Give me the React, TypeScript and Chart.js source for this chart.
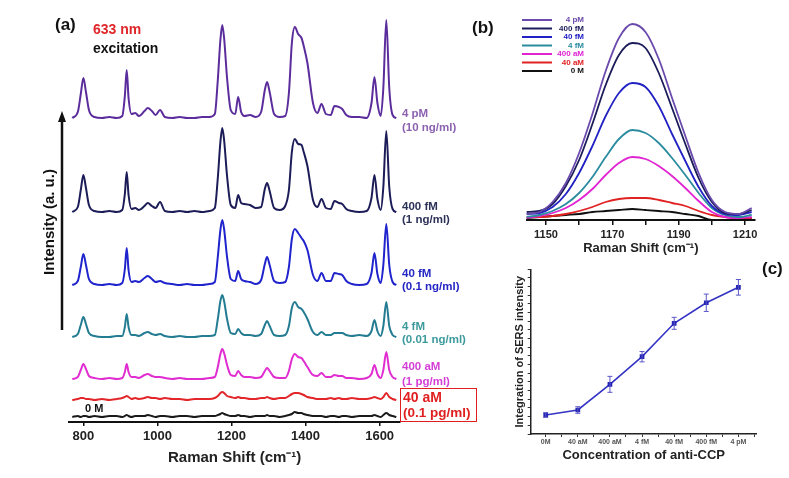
import React, { useEffect, useRef } from 'react';
import { Chart, registerables } from 'chart.js';
Chart.register(...registerables);

const FONT = '"Liberation Sans", Arial, Helvetica, sans-serif';

// ---------------- Panel (a) data ----------------
const ramanShiftA = [770, 785, 793, 800, 807, 815, 830, 850, 870, 890,
  905, 912, 917, 922, 930, 940, 950, 965, 974, 985,
  995, 1007, 1020, 1040, 1060, 1080, 1100, 1120, 1140, 1155,
  1163, 1170, 1175, 1180, 1188, 1198, 1210, 1218, 1226, 1235,
  1250, 1265, 1280, 1290, 1296, 1303, 1315, 1330, 1345, 1355,
  1363, 1371, 1380, 1389, 1395, 1405, 1420, 1432, 1443, 1455,
  1468, 1478, 1490, 1499, 1510, 1525, 1545, 1565, 1578, 1586,
  1594, 1603, 1610, 1618, 1626, 1635, 1645];

const spectrum4pM = [0, 6, 24, 40, 26, 8, 1, 0, 1, 0,
  2, 22, 48, 20, 4, 5, 2, 7, 10, 7,
  3, 8, 1, 0, 1, 0, 0, 1, 1, 4,
  38, 78, 93, 80, 40, 8, 4, 21, 6, 2,
  3, 1, 6, 28, 36, 26, 4, 1, 2, 25,
  75, 91, 84, 80, 72, 55, 15, 5, 14, 4,
  3, 12, 11, 9, 3, 1, 1, 0, 15, 41,
  15, 2, 30, 98, 30, 3, 0];
const spectrum400fM = [0, 5, 22, 37, 24, 7, 1, 0, 1, 0,
  2, 18, 40, 17, 3, 4, 2, 6, 9, 6,
  4, 10, 1, 0, 1, 0, 1, 0, 1, 4,
  34, 70, 84, 72, 36, 7, 4, 17, 9, 8,
  7, 4, 5, 23, 29, 21, 4, 2, 6, 22,
  60, 73, 68, 67, 60, 46, 12, 5, 13, 4,
  3, 11, 9, 8, 3, 1, 0, 1, 14, 37,
  13, 2, 25, 81, 25, 3, 0];
const spectrum40fM = [0, 4, 18, 31, 20, 6, 1, 0, 1, 0,
  2, 16, 37, 15, 3, 4, 3, 7, 9, 6,
  3, 4, 2, 1, 0, 1, 0, 0, 1, 3,
  28, 55, 65, 56, 28, 6, 4, 14, 6, 4,
  3, 1, 5, 21, 28, 20, 4, 2, 3, 18,
  46, 56, 52, 47, 44, 35, 10, 4, 12, 4,
  4, 12, 11, 10, 4, 1, 0, 1, 12, 32,
  11, 2, 20, 61, 20, 3, 0];
const spectrum4fM = [0, 3, 12, 20, 13, 4, 1, 0, 0, 1,
  1, 10, 23, 10, 2, 2, 1, 4, 5, 3,
  2, 3, 1, 0, 1, 0, 0, 1, 1, 2,
  18, 36, 42, 36, 18, 4, 3, 8, 4, 2,
  2, 1, 3, 12, 16, 11, 2, 1, 2, 11,
  29, 35, 30, 28, 25, 18, 5, 2, 5, 2,
  2, 4, 4, 4, 2, 1, 2, 1, 6, 17,
  6, 1, 11, 35, 11, 2, 0];
const spectrum400aM = [0, 2, 9, 15, 10, 3, 1, 0, 1, 0,
  1, 7, 15, 7, 2, 2, 1, 4, 5, 3,
  2, 2, 1, 0, 1, 0, 0, 0, 1, 2,
  12, 25, 30, 26, 14, 4, 3, 8, 4, 2,
  2, 1, 2, 8, 11, 8, 2, 1, 1, 8,
  20, 25, 22, 21, 18, 12, 4, 3, 6, 2,
  2, 4, 3, 3, 1, 1, 0, 1, 5, 14,
  5, 1, 9, 27, 9, 2, 0];
const spectrum40aM = [0, 1, 2, 2, 1, 1, 0, 1, 0, 1,
  2, 3, 4, 3, 1, 2, 1, 2, 3, 2,
  2, 1, 2, 1, 1, 0, 1, 1, 1, 2,
  4, 7, 8, 7, 4, 3, 2, 3, 2, 2,
  1, 1, 2, 2, 3, 2, 1, 2, 2, 4,
  6, 7, 7, 6, 5, 3, 2, 1, 1, 1,
  2, 1, 2, 1, 1, 2, 1, 1, 2, 3,
  2, 1, 3, 7, 3, 1, 0];
const spectrum0M = [0, 1, 0, 1, 1, 0, 1, 0, 1, 1,
  0, 1, 2, 1, 0, 1, 1, 1, 2, 1,
  0, 1, 1, 0, 1, 1, 0, 1, 1, 1,
  2, 3, 4, 3, 2, 1, 1, 2, 1, 1,
  0, 1, 1, 1, 2, 1, 1, 0, 1, 2,
  3, 5, 4, 4, 3, 2, 1, 1, 1, 0,
  1, 1, 0, 1, 1, 0, 1, 1, 1, 2,
  1, 0, 2, 4, 2, 1, 0];
// vertical offsets of the stacked spectra (a.u.)
const spectrumOffsets = [304, 210, 137, 85, 43, 22, 5];
const ramanTicksA = [800, 1000, 1200, 1400, 1600];

const seriesLabels = ['4 pM', '400 fM', '40 fM', '4 fM', '400 aM', '40 aM', '0 M'];
const massLabels = ['(10 ng/ml)', '(1 ng/ml)', '(0.1 ng/ml)', '(0.01 ng/ml)', '(1 pg/ml)', '(0.1 pg/ml)', ''];
const spectraA = [spectrum4pM, spectrum400fM, spectrum40fM, spectrum4fM, spectrum400aM, spectrum40aM, spectrum0M];
const lineColors = ['#5b2d9c', '#1c1c58', '#2024cc', '#247c92', '#e02cd0', '#e2262a', '#1a1a1a'];
const labelColors = ['#8c62b0', '#2c3158', '#2426c4', '#3c9a9c', '#d43ed6', '#e02020', '#111111'];

// ---------------- Panel (b) data ----------------
const ramanShiftB = [1144, 1148, 1152, 1156, 1160, 1164, 1168, 1172, 1176, 1180, 1184, 1188, 1192, 1196, 1200, 1204, 1208, 1212];
const band4pM = [6, 8, 18, 37, 67, 106, 149, 182, 196, 188, 161, 122, 84, 47, 20, 8, 6, 12];
const band400fM = [8, 9, 16, 34, 60, 96, 135, 165, 177, 172, 147, 112, 76, 42, 18, 7, 6, 10];
const band40fM = [6, 7, 13, 26, 47, 74, 104, 127, 137, 133, 114, 86, 59, 33, 14, 6, 5, 8];
const band4fM = [3, 5, 9, 16, 27, 43, 63, 81, 90, 87, 77, 62, 45, 27, 12, 5, 3, 5];
const band400aM = [2, 4, 7, 12, 20, 31, 45, 57, 63, 61, 54, 44, 32, 19, 8, 3, 2, 3];
const band40aM = [3, 3, 4, 6, 9, 13, 18, 21, 22, 22, 20, 17, 14, 9, 5, 3, 2, 2];
const band0M = [2, 3, 4, 5, 6, 8, 9, 10, 11, 10, 9, 8, 6, 4, 0, 0, 1, 2];
const bandsB = [band4pM, band400fM, band40fM, band4fM, band400aM, band40aM, band0M];
const bandColors = ['#6a4aac', '#1c1c5a', '#2222c4', '#2a8c9e', '#e024d2', '#e02222', '#111111'];
const ramanTicksB = [1150, 1160, 1170, 1180, 1190, 1200, 1210];
const labeledTicksB = [1150, 1170, 1190, 1210];

// ---------------- Panel (c) data ----------------
const concentrations = ['0M', '40 aM', '400 aM', '4 fM', '40 fM', '400 fM', '4 pM'];
const sersIntegral = [2.19, 2.77, 5.73, 8.92, 12.77, 15.14, 16.92];
const sersError = [0.27, 0.38, 0.92, 0.6, 0.69, 1.0, 0.9];
const yTicksC = [0, 1, 2, 3, 4, 5, 6, 7, 8, 9, 10, 11, 12, 13, 14, 15, 16, 17, 18, 19];
const xTicksC = [0, 0.5, 1, 1.5, 2, 2.5, 3, 3.5, 4, 4.5, 5, 5.5, 6, 6.5];

const legendPluginB = {
  id: 'legendB',
  afterDraw(chart: any) {
    const ctx = chart.ctx;
    ctx.save();
    ctx.font = `bold 8px ${FONT}`;
    ctx.textAlign = 'right';
    ctx.textBaseline = 'middle';
    chart.data.datasets.forEach((ds: any, i: number) => {
      const y = 20 + i * 8.5;
      ctx.strokeStyle = ds.borderColor;
      ctx.lineWidth = 2;
      ctx.beginPath();
      ctx.moveTo(62, y);
      ctx.lineTo(92, y);
      ctx.stroke();
      ctx.fillStyle = ds.borderColor;
      ctx.fillText(ds.label, 124, y);
    });
    ctx.restore();
  },
};

const errorBarPlugin = {
  id: 'errorBars',
  afterDatasetsDraw(chart: any) {
    const ctx = chart.ctx;
    const xs = chart.scales.x;
    const ys = chart.scales.y;
    ctx.save();
    ctx.strokeStyle = '#5a56c8';
    ctx.lineWidth = 1;
    sersIntegral.forEach((v, i) => {
      const x = xs.getPixelForValue(i);
      const y1 = ys.getPixelForValue(v - sersError[i]);
      const y2 = ys.getPixelForValue(v + sersError[i]);
      ctx.beginPath();
      ctx.moveTo(x, y1); ctx.lineTo(x, y2);
      ctx.moveTo(x - 2.5, y1); ctx.lineTo(x + 2.5, y1);
      ctx.moveTo(x - 2.5, y2); ctx.lineTo(x + 2.5, y2);
      ctx.stroke();
    });
    ctx.restore();
  },
};

function useChart(ref: React.RefObject<HTMLCanvasElement | null>, makeConfig: () => any) {
  useEffect(() => {
    if (!ref.current) return;
    const chart = new Chart(ref.current, makeConfig());
    return () => chart.destroy();
  }, []);
}

const Txt = ({ x, y, size, color = '#111', children }: any) => (
  <div style={{ position: 'absolute', left: x, top: y, transform: 'translateY(-50%)', font: `bold ${size}px ${FONT}`, color, whiteSpace: 'nowrap', lineHeight: 1 }}>{children}</div>
);

export default function App() {
  const refA = useRef<HTMLCanvasElement>(null);
  const refB = useRef<HTMLCanvasElement>(null);
  const refC = useRef<HTMLCanvasElement>(null);

  useChart(refA, () => ({
    type: 'line',
    data: {
      datasets: spectraA.map((s, i) => ({
        label: seriesLabels[i],
        data: ramanShiftA.map((x, j) => ({ x, y: s[j] + spectrumOffsets[i] })),
        borderColor: lineColors[i],
        borderWidth: 2,
        pointRadius: 0,
        fill: false,
        cubicInterpolationMode: 'monotone',
      })),
    },
    options: {
      animation: false,
      responsive: false,
      events: [],
      layout: { padding: { left: 69.3, right: 80, top: 2, bottom: 11 } },
      plugins: { legend: { display: false }, tooltip: { enabled: false } },
      scales: {
        x: {
          type: 'linear', min: 762, max: 1655,
          afterBuildTicks: (s: any) => { s.ticks = ramanTicksA.map((v) => ({ value: v })); },
          afterFit: (s: any) => { s.height = 45; },
          grid: { display: true, drawOnChartArea: false, drawTicks: true, tickLength: 4, color: '#111', lineWidth: 1.5 },
          border: { display: true, color: '#111', width: 2 },
          ticks: {
            font: { family: FONT, size: 13, weight: 'bold' }, color: '#222', padding: 3, maxRotation: 0, autoSkip: false,
            callback: (v: any) => String(v),
          },
          title: { display: true, text: 'Raman Shift (cm⁻¹)', font: { family: FONT, size: 15, weight: 'bold' }, color: '#222', padding: 0 },
        },
        y: { display: false, min: 0, max: 420 },
      },
    },
  }));

  useChart(refB, () => ({
    type: 'line',
    data: {
      datasets: bandsB.map((s, i) => ({
        label: seriesLabels[i],
        data: ramanShiftB.map((x, j) => ({ x, y: s[j] })),
        borderColor: bandColors[i],
        borderWidth: 1.8,
        pointRadius: 0,
        fill: false,
        cubicInterpolationMode: 'monotone',
      })),
    },
    options: {
      animation: false,
      responsive: false,
      events: [],
      layout: { padding: { left: 66.7, right: 34, top: 20, bottom: 14 } },
      plugins: { legend: { display: false }, tooltip: { enabled: false } },
      scales: {
        x: {
          type: 'linear', min: 1144.2, max: 1213,
          afterBuildTicks: (s: any) => { s.ticks = ramanTicksB.map((v) => ({ value: v })); },
          afterFit: (s: any) => { s.height = 36; },
          grid: { display: true, drawOnChartArea: false, drawTicks: true, tickLength: 5, color: '#111', lineWidth: 1.5 },
          border: { display: true, color: '#111', width: 2 },
          ticks: {
            font: { family: FONT, size: 11, weight: 'bold' }, color: '#222', padding: 3, maxRotation: 0, autoSkip: false,
            callback: (v: any) => (labeledTicksB.includes(v) ? String(v) : ''),
          },
          title: { display: true, text: 'Raman Shift (cm⁻¹)', font: { family: FONT, size: 13, weight: 'bold' }, color: '#222', padding: 0 },
        },
        y: { display: false, min: 0, max: 200 },
      },
    },
    plugins: [legendPluginB],
  }));

  useChart(refC, () => ({
    type: 'line',
    data: {
      datasets: [{
        label: 'Integration of SERS intensity',
        data: sersIntegral.map((v, i) => ({ x: i, y: v })),
        borderColor: '#3434c4',
        borderWidth: 1.6,
        pointStyle: 'rect',
        pointRadius: 2.2,
        pointBackgroundColor: '#2424b4',
        pointBorderColor: '#2424b4',
        fill: false,
        tension: 0,
      }],
    },
    options: {
      animation: false,
      responsive: false,
      events: [],
      layout: { padding: { left: 33.4, right: 32.3, top: 14.3, bottom: 15.2 } },
      plugins: { legend: { display: false }, tooltip: { enabled: false } },
      scales: {
        x: {
          type: 'linear', min: -0.467, max: 6.57,
          afterBuildTicks: (s: any) => { s.ticks = xTicksC.map((v) => ({ value: v })); },
          afterFit: (s: any) => { s.height = 28.8; },
          grid: { display: true, drawOnChartArea: false, drawTicks: true, tickLength: 3, color: '#333', lineWidth: 1 },
          border: { display: true, color: '#222', width: 1.5 },
          ticks: {
            font: { family: FONT, size: 7, weight: 'bold' }, color: '#555', padding: 1, maxRotation: 0, autoSkip: false,
            callback: (v: any) => (Number.isInteger(v) ? concentrations[v] : ''),
          },
          title: { display: true, text: 'Concentration of anti-CCP', font: { family: FONT, size: 13, weight: 'bold' }, color: '#222', padding: 0 },
        },
        y: {
          type: 'linear', min: 0, max: 19,
          afterBuildTicks: (s: any) => { s.ticks = yTicksC.map((v) => ({ value: v })); },
          afterFit: (s: any) => { s.width = 17.3; },
          grid: { display: true, drawOnChartArea: false, drawTicks: true, tickLength: 3, color: '#333', lineWidth: 1 },
          border: { display: true, color: '#222', width: 1.5 },
          ticks: { display: false },
          title: { display: true, text: 'Integration of SERS intensity', font: { family: FONT, size: 11, weight: 'bold' }, color: '#222', padding: 0 },
        },
      },
    },
    plugins: [errorBarPlugin],
  }));

  const labelYs = [114, 207, 274, 327, 367, 397];
  const subYs = [128, 220, 287, 340, 382, 413];

  return (
    <div style={{ position: 'fixed', left: 0, top: 0, width: 789, height: 478, background: '#fff', overflow: 'hidden' }}>
      <canvas ref={refA} width={480} height={478} style={{ position: 'absolute', left: 0, top: 0, width: 480, height: 478 }} />
      <canvas ref={refB} width={329} height={270} style={{ position: 'absolute', left: 460, top: 0, width: 329, height: 270 }} />
      <canvas ref={refC} width={309} height={223} style={{ position: 'absolute', left: 480, top: 255, width: 309, height: 223 }} />

      <svg width={789} height={478} style={{ position: 'absolute', left: 0, top: 0, pointerEvents: 'none' }}>
        <line x1={62} y1={330} x2={62} y2={120} stroke="#111" strokeWidth={2.5} />
        <polygon points="62,111 58,122 66,122" fill="#111" />
      </svg>

      <Txt x={55} y={24} size={17}>(a)</Txt>
      <Txt x={93} y={29} size={14} color="#e0262a">633 nm</Txt>
      <Txt x={93} y={48} size={14}>excitation</Txt>
      <div style={{ position: 'absolute', left: 48, top: 222, transform: 'translate(-50%, -50%) rotate(-90deg)', font: `bold 15px ${FONT}`, color: '#111', whiteSpace: 'nowrap', lineHeight: 1 }}>Intensity (a. u.)</div>
      <Txt x={85} y={408} size={11}>0 M</Txt>

      {labelYs.map((y, i) => (
        <React.Fragment key={i}>
          <Txt x={i === 5 ? 403 : 402} y={y} size={i === 5 ? 14 : 11.5} color={labelColors[i]}>{seriesLabels[i]}</Txt>
          <Txt x={i === 5 ? 403 : 402} y={subYs[i]} size={i === 5 ? 13.5 : 11.5} color={labelColors[i]}>{massLabels[i]}</Txt>
        </React.Fragment>
      ))}
      <div style={{ position: 'absolute', left: 400, top: 388, width: 77, height: 34, border: '1.5px solid #e02020', boxSizing: 'border-box' }} />

      <Txt x={472} y={27} size={17}>(b)</Txt>
      <Txt x={762} y={268} size={17}>(c)</Txt>
    </div>
  );
}
